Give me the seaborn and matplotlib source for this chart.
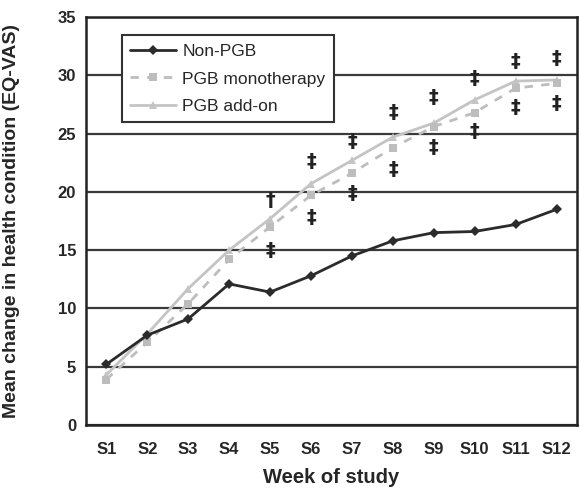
import matplotlib
matplotlib.use("Agg")
import matplotlib.pyplot as plt
import seaborn as sns
import pandas as pd
import numpy as np
from matplotlib.ticker import FixedLocator

weeks = ["S1", "S2", "S3", "S4", "S5", "S6", "S7", "S8", "S9", "S10", "S11", "S12"]
non_pgb = [5.2, 7.7, 9.1, 12.1, 11.4, 12.8, 14.5, 15.8, 16.5, 16.6, 17.2, 18.5]
pgb_mono = [3.9, 7.1, 10.4, 14.2, 17.0, 19.7, 21.6, 23.8, 25.6, 26.8, 28.9, 29.3]
pgb_addon = [4.3, 7.8, 11.7, 15.0, 17.7, 20.7, 22.7, 24.7, 25.9, 27.9, 29.5, 29.6]

# significance marks (week, symbol above, y above, symbol below, y below)
mark_weeks = ["S5", "S6", "S7", "S8", "S9", "S10", "S11", "S12"]
mark_above = ["†", "‡", "‡", "‡", "‡", "‡", "‡", "‡"]
mark_above_y = [19.3, 22.6, 24.3, 26.8, 28.1, 29.7, 31.2, 31.4]
mark_below = ["‡", "‡", "‡", "‡", "‡", "‡", "‡", "‡"]
mark_below_y = [15.0, 17.8, 19.9, 21.9, 23.8, 25.2, 27.2, 27.6]

sns.set_style("white")
plt.rcParams["font.family"] = ["Liberation Sans", "DejaVu Sans"]

fig = plt.figure(figsize=(5.8, 4.93), dpi=100)
ax = fig.add_axes([0.148, 0.138, 0.847, 0.8275])

xpos = np.arange(len(weeks))
df = pd.DataFrame({"x": xpos, "non": non_pgb, "mono": pgb_mono, "addon": pgb_addon})

sns.lineplot(data=df, x="x", y="addon", ax=ax, color="#c4c4c4", lw=2.0,
             marker="^", markersize=6, markeredgewidth=0, label="PGB add-on", zorder=4)
sns.lineplot(data=df, x="x", y="mono", ax=ax, color="#bdbdbd", lw=2.0,
             linestyle=(0, (3, 3)), marker="s", markersize=6, markeredgewidth=0,
             label="PGB monotherapy", zorder=5)
sns.lineplot(data=df, x="x", y="non", ax=ax, color="#2b2b2b", lw=2.0,
             marker="D", markersize=5, markeredgewidth=0, label="Non-PGB", zorder=6)

for w, s, y in zip(mark_weeks, mark_above, mark_above_y):
    ax.text(weeks.index(w), y, s, ha="center", va="center", fontsize=14,
            fontweight="bold", color="#222222", family=["DejaVu Sans"], zorder=7)
for w, s, y in zip(mark_weeks, mark_below, mark_below_y):
    ax.text(weeks.index(w), y, s, ha="center", va="center", fontsize=14,
            fontweight="bold", color="#222222", family=["DejaVu Sans"], zorder=7)

ax.set_xlim(-0.5, len(weeks) - 0.5)
ax.set_ylim(0, 35)
ax.set_yticks(np.arange(0, 36, 5))
ax.yaxis.grid(True, color="#3a3a3a", lw=1.6)
ax.set_axisbelow(True)

ax.set_xticks(xpos)
ax.set_xticklabels(weeks, fontsize=12, fontweight="bold")
ax.xaxis.set_minor_locator(FixedLocator(np.arange(0.5, len(weeks), 1.0)))
ax.tick_params(axis="x", which="major", length=0, pad=12)
ax.tick_params(axis="x", which="minor", length=5, width=1.5, color="#222222", direction="out")
ax.tick_params(axis="y", which="major", length=6, width=1.5, color="#222222",
               direction="inout", labelsize=12, pad=4)
for lab in ax.get_yticklabels():
    lab.set_fontweight("bold")

for sp in ["left", "bottom", "right", "top"]:
    ax.spines[sp].set_visible(True)
    ax.spines[sp].set_color("#222222")
    ax.spines[sp].set_linewidth(1.8)

ax.set_xlabel("Week of study", fontsize=14.5, fontweight="bold", labelpad=8)
ax.set_ylabel("Mean change in health condition (EQ-VAS)", fontsize=14, fontweight="bold", labelpad=10)
ax.yaxis.set_label_coords(-0.135, 0.5)

handles, labels = ax.get_legend_handles_labels()
order = [labels.index("Non-PGB"), labels.index("PGB monotherapy"), labels.index("PGB add-on")]
leg = ax.legend([handles[i] for i in order], [labels[i] for i in order],
                loc="upper left", bbox_to_anchor=(0.073, 0.955), frameon=True,
                fancybox=False, edgecolor="#333333", fontsize=12.5,
                handlelength=2.6, handletextpad=0.4, borderpad=0.5, labelspacing=0.7,
                borderaxespad=0, framealpha=1)
leg.get_frame().set_linewidth(1.5)

fig.savefig("out.png", dpi=100)
